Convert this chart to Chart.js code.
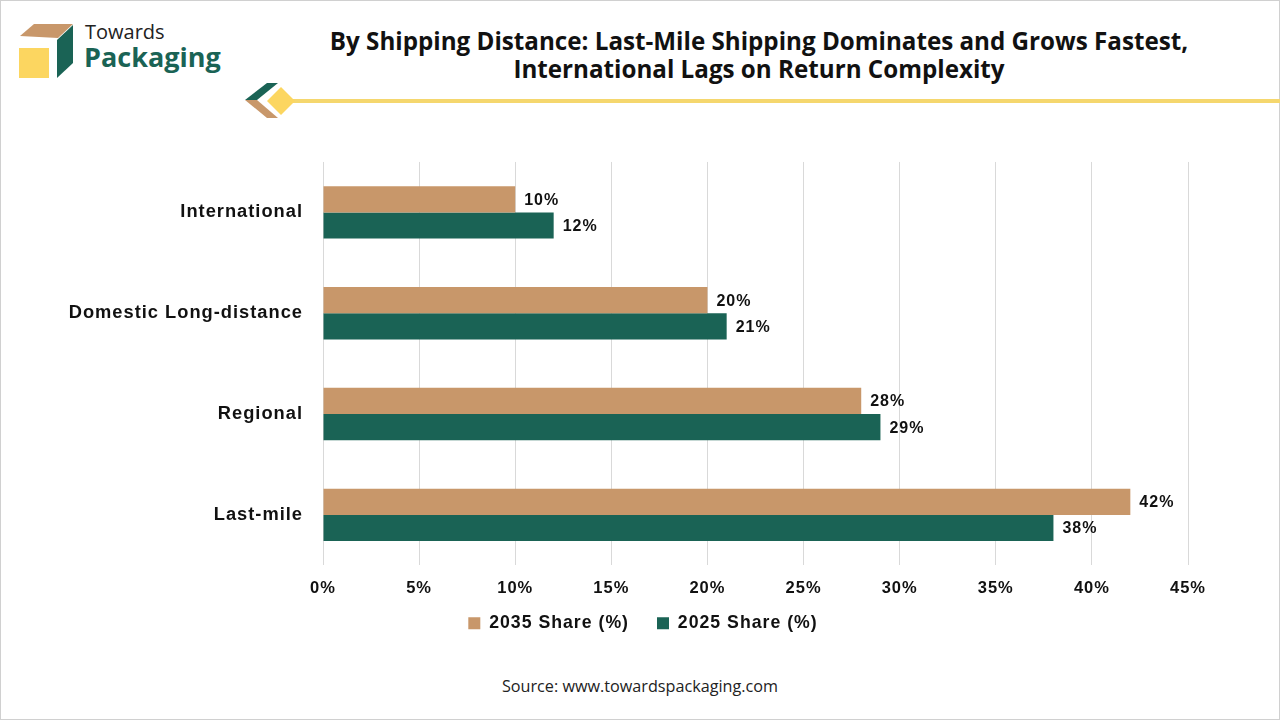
<!DOCTYPE html>
<html>
<head>
<meta charset="utf-8">
<script src="https://cdn.jsdelivr.net/npm/chart.js@4.4.1/dist/chart.umd.min.js"></script>
<style>
  html,body{margin:0;padding:0;background:#fff;}
  body{width:1280px;height:720px;position:relative;overflow:hidden;font-family:"Liberation Sans",Arial,sans-serif;}
  #frame{position:absolute;left:0;top:0;width:1278px;height:718px;border:1px solid #d0d0d0;}
  #title{position:absolute;left:290px;width:938px;top:27px;text-align:center;font-family:"Open Sans","Liberation Sans",sans-serif;font-weight:bold;font-size:24.2px;line-height:28px;color:#111;}
  #logoText1{position:absolute;left:85px;top:18px;font-family:"Open Sans",sans-serif;font-size:20px;color:#222;}
  #logoText2{position:absolute;left:84px;top:38px;font-family:"Open Sans",sans-serif;font-weight:bold;font-size:27px;color:#1a6355;}
  #source{position:absolute;left:0;width:1280px;top:675px;text-align:center;font-family:"Open Sans",sans-serif;font-size:16.2px;color:#222;}
  #chartBox{position:absolute;left:0;top:139px;width:1280px;height:516px;}
</style>
</head>
<body>
<div id="frame"></div>
<svg width="1280" height="130" style="position:absolute;left:0;top:0">
  <polygon points="20,36 34,24 73,24 58,38" fill="#c8976a"/>
  <polygon points="57,40 73,25 73,63 57,78" fill="#1a6355"/>
  <rect x="19" y="48" width="30" height="30" fill="#fcd660"/>
  <line x1="280" y1="101" x2="1280" y2="101" stroke="#f5d76e" stroke-width="4"/>
  <polygon points="245,100 267,83 278,83 257,100" fill="#1a6355"/>
  <polygon points="245,100 257,100 278,118 267,118" fill="#c8976a"/>
  <polygon points="281,87 295,101 281,115 267,101" fill="#fcd660"/>
</svg>
<div id="logoText1">Towards</div>
<div id="logoText2">Packaging</div>
<div id="title">By Shipping Distance: Last-Mile Shipping Dominates and Grows Fastest,<br>International Lags on Return Complexity</div>
<div id="chartBox"><canvas id="c"></canvas></div>
<div id="source">Source: www.towardspackaging.com</div>
<script>
const categories = ["International", "Domestic Long-distance", "Regional", "Last-mile"];
const share2035 = [10, 20, 28, 42];
const share2025 = [12, 21, 29, 38];
const seriesNames = ["2035 Share (%)", "2025 Share (%)"];
const tickMax = 45;
const tickStep = 5;

const FONT = '"Liberation Sans", Arial, sans-serif';

const spacingPlugin = {
  id: 'spacing',
  beforeLayout(chart) { chart.ctx.letterSpacing = '1px'; },
  beforeDraw(chart) { chart.ctx.letterSpacing = '1px'; }
};

// nudge the legend box (up and right) after layout
const legendShift = {
  id: 'legendShift',
  afterLayout(chart) {
    const l = chart.legend;
    if (!l) return;
    l.top -= 13; l.bottom -= 13;
    l.left += 49; l.right += 49;
  }
};

const labelPlugin = {
  id: 'valueLabels',
  afterDatasetsDraw(chart) {
    const ctx = chart.ctx;
    ctx.save();
    ctx.letterSpacing = '1px';
    ctx.font = 'bold 16px ' + FONT;
    ctx.fillStyle = '#111';
    ctx.textBaseline = 'middle';
    ctx.textAlign = 'left';
    chart.data.datasets.forEach((ds, i) => {
      const meta = chart.getDatasetMeta(i);
      meta.data.forEach((bar, j) => {
        ctx.fillText(ds.data[j] + '%', bar.x + 9, bar.y + 1);
      });
    });
    ctx.restore();
  }
};

new Chart(document.getElementById('c'), {
  type: 'bar',
  data: {
    labels: categories,
    datasets: [
      { label: seriesNames[0], data: share2035, backgroundColor: '#c8976a', borderWidth: 0 },
      { label: seriesNames[1], data: share2025, backgroundColor: '#1a6355', borderWidth: 0 }
    ]
  },
  options: {
    indexAxis: 'y',
    responsive: true,
    maintainAspectRatio: false,
    animation: false,
    layout: { padding: { left: 0, right: 92, top: 8, bottom: 0 } },
    scales: {
      x: {
        min: 0, max: tickMax,
        afterFit(scale) { scale.height = 34; },
        ticks: { stepSize: tickStep, color: '#111', padding: 13,
          font: { family: FONT, size: 16.5, weight: 'bold' },
          callback: v => v + '%' },
        grid: { color: '#d9d9d9', drawTicks: false, lineWidth: 1 },
        border: { display: false }
      },
      y: {
        afterFit(scale) { scale.width = 323; },
        ticks: { color: '#111', padding: 12,
          font: { family: FONT, size: 18.3, weight: 'bold' } },
        grid: { display: false },
        border: { display: false }
      }
    },
    datasets: { bar: { barPercentage: 1.0, categoryPercentage: 0.52 } },
    plugins: {
      legend: {
        position: 'bottom',
        labels: { boxWidth: 12, boxHeight: 12, color: '#111', padding: 28,
          font: { family: FONT, size: 17.7, weight: 'bold' } }
      },
      tooltip: { enabled: false }
    }
  },
  plugins: [spacingPlugin, legendShift, labelPlugin]
});
</script>
</body>
</html>
